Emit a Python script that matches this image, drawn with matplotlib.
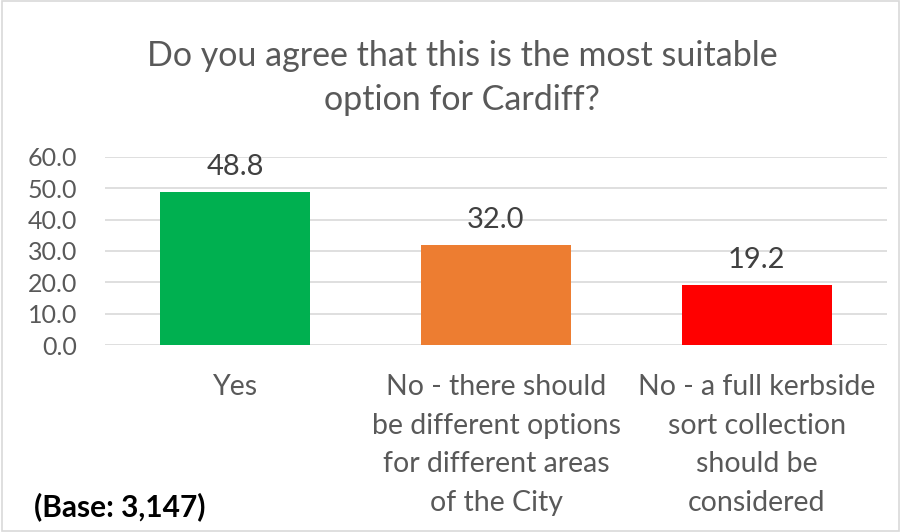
import matplotlib.pyplot as plt
import numpy as np

plt.rcParams['font.family'] = ['Lato', 'DejaVu Sans']

categories = ['Yes',
              'No - there should\nbe different options\nfor different areas\nof the City',
              'No - a full kerbside\nsort collection\nshould be\nconsidered']
values = [48.8, 32.0, 19.2]
colors = ['#00b050', '#ed7d31', '#ff0000']
yticks = [0, 10, 20, 30, 40, 50, 60]

fig = plt.figure(figsize=(9.01, 5.32), dpi=100)
ax = fig.add_axes([0.1165, 0.3515, 0.868, 0.3534])

x = np.arange(len(categories))
ax.bar(x, values, width=0.575, color=colors, zorder=3)
for xi, v in zip(x, values):
    ax.text(xi, v + 3.8, f'{v:.1f}', ha='center', va='bottom',
            fontsize=21, color='#404040')

ax.set_xlim(-0.5, 2.5)
ax.set_ylim(0, 60)
ax.set_yticks(yticks)
ax.set_yticklabels([f'{t:.1f}' for t in yticks], fontsize=18)
ax.set_xticks(x)
ax.set_xticklabels(categories, linespacing=1.6, fontsize=20.5)
ax.tick_params(axis='both', length=0, labelcolor='#595959')
ax.tick_params(axis='x', pad=21)
ax.tick_params(axis='y', pad=20)
ax.yaxis.grid(True, color='#d9d9d9', linewidth=1.2, zorder=0)
for s in ax.spines.values():
    s.set_visible(False)

fig.text(0.513, 0.854, 'Do you agree that this is the most suitable\noption for Cardiff?',
         ha='center', va='center', fontsize=24.5, color='#595959', linespacing=1.45)
fig.text(0.038, 0.048, '(Base: 3,147)', fontsize=21.5, fontweight='bold', color='black',
         va='center')

fig.patches.append(plt.Rectangle((0.002, 0.002), 0.996, 0.996, transform=fig.transFigure,
                                 fill=False, edgecolor='#d9d9d9', linewidth=1.2))

fig.savefig('out.png', dpi=100)
